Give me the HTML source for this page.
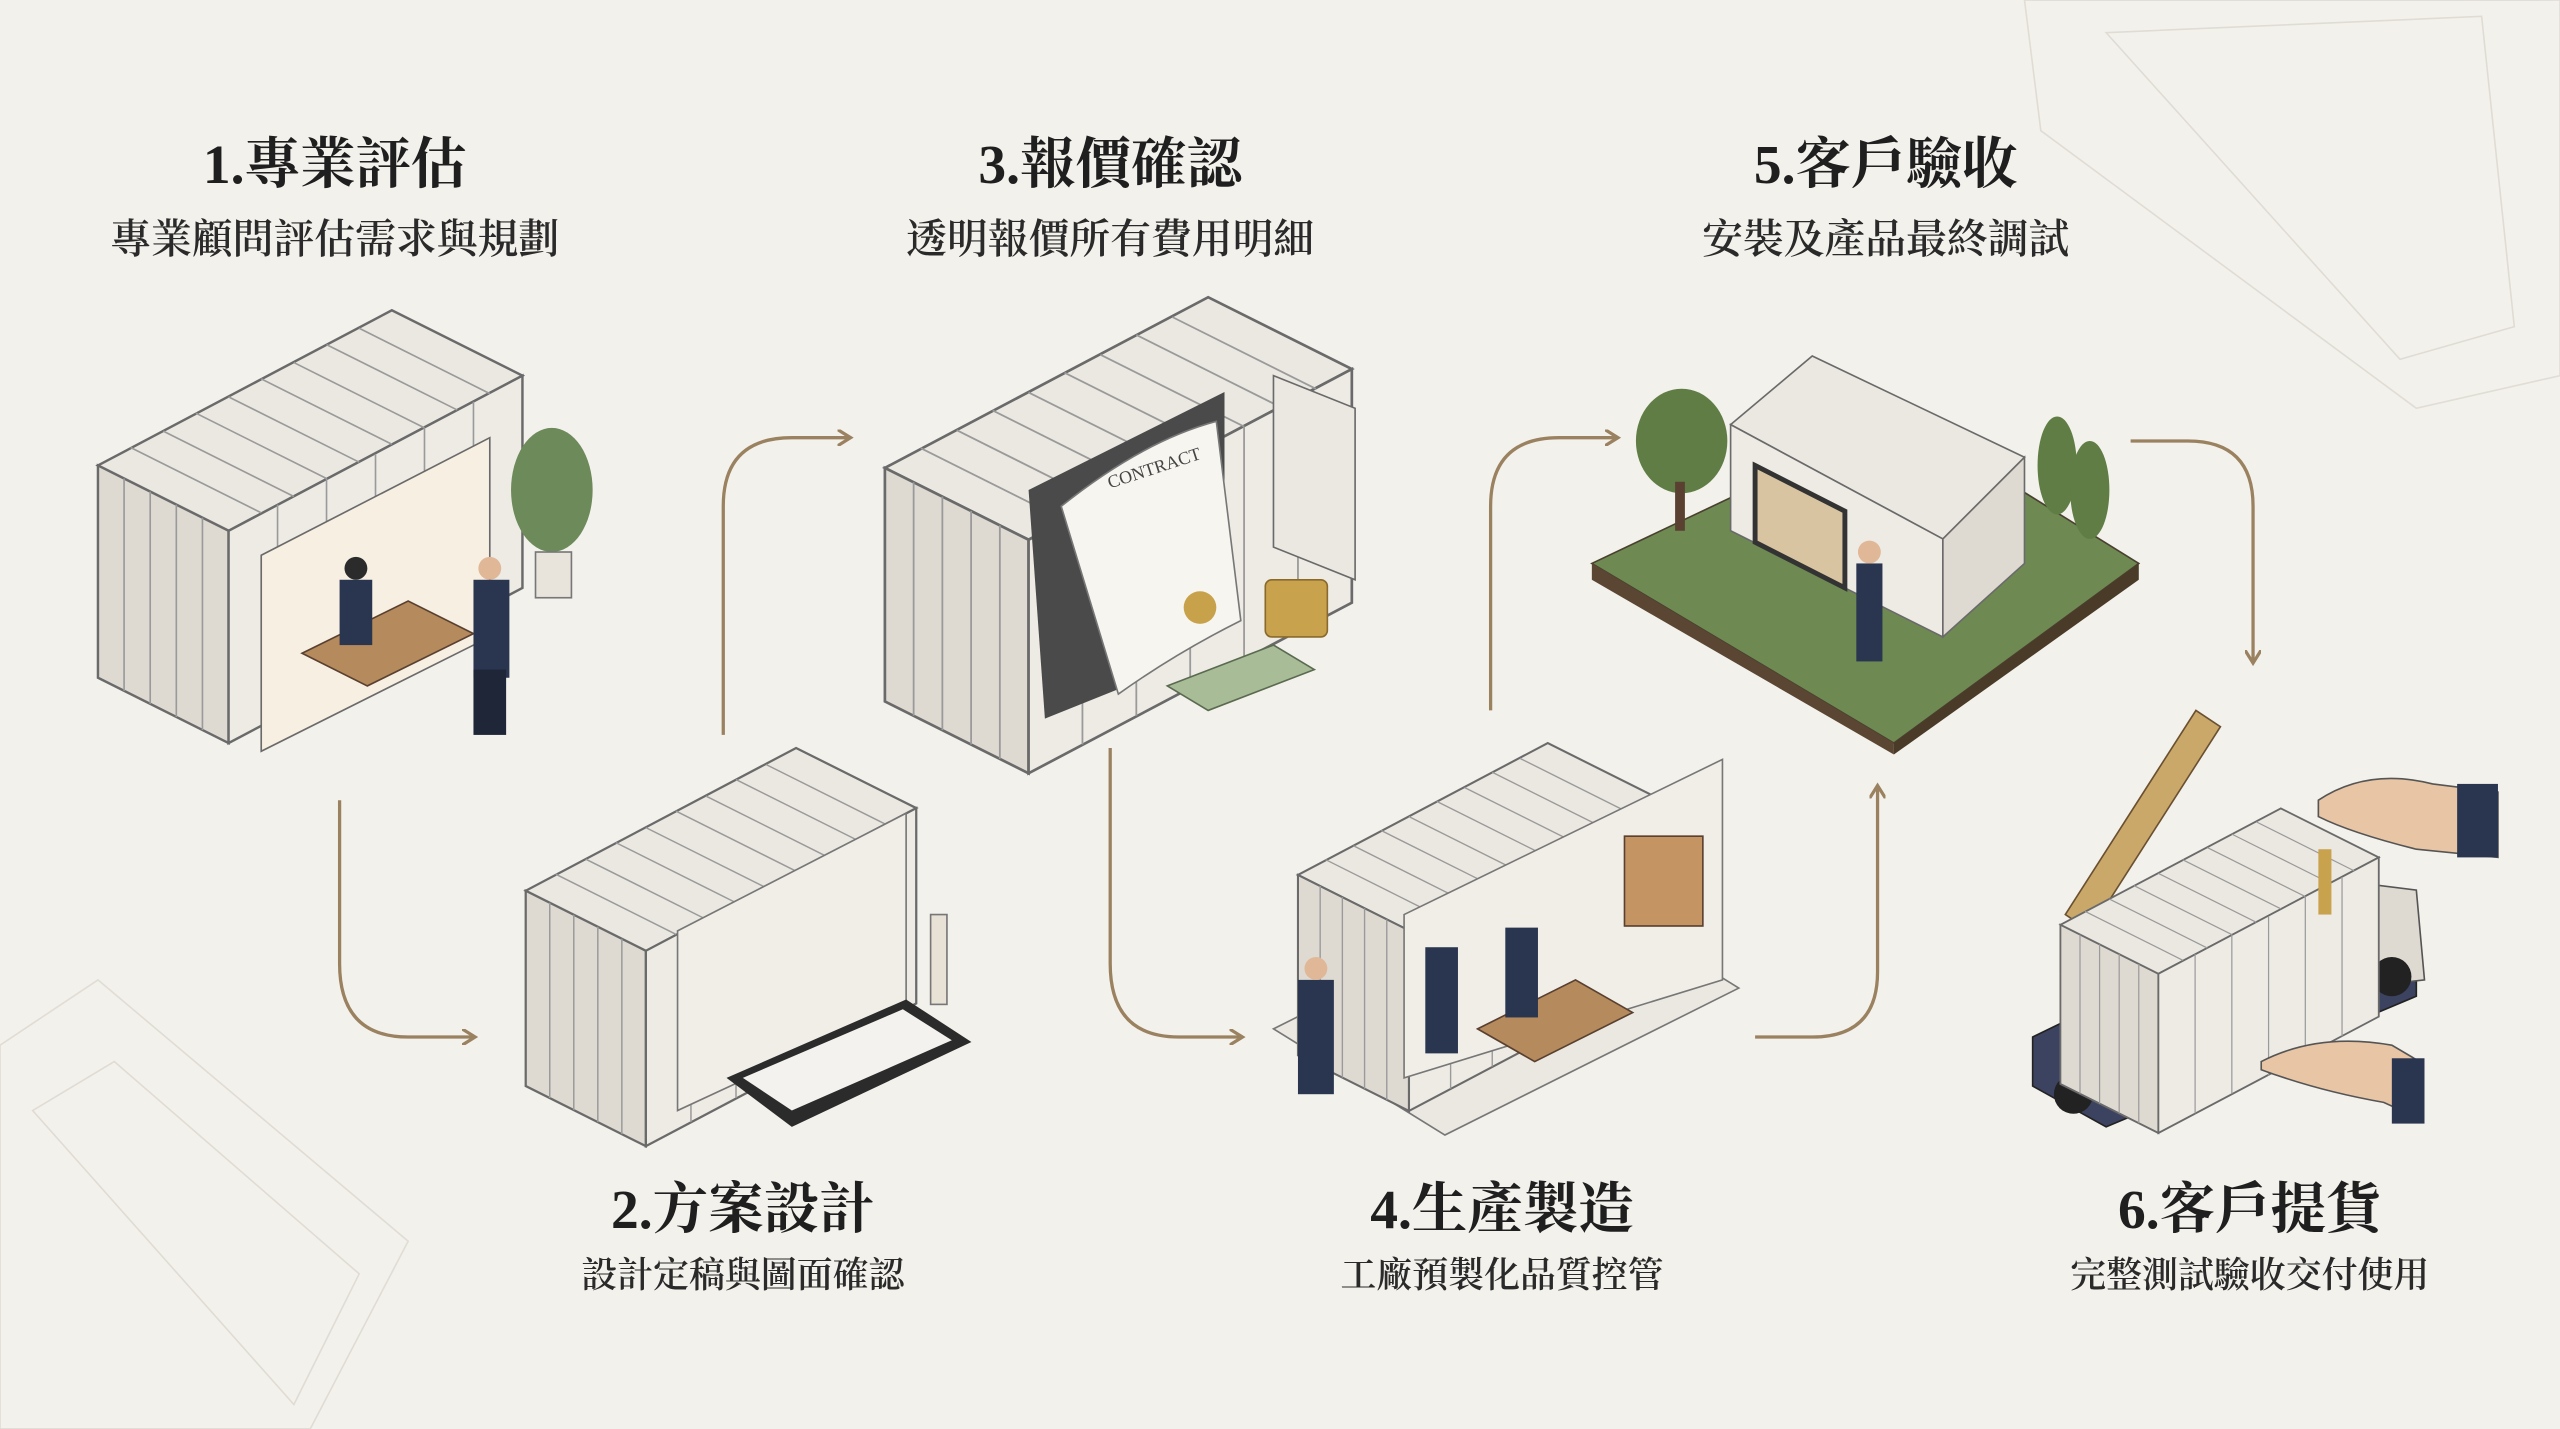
<!DOCTYPE html>
<html><head><meta charset="utf-8"><style>
html,body{margin:0;padding:0;background:#f3f1ec;}
svg{display:block}
.t{font-family:"Liberation Serif","Noto Serif CJK SC","Noto Sans CJK TC",serif;font-weight:700;font-size:34px;fill:#1f1f1f;text-anchor:middle}
.s{font-family:"Liberation Serif","Noto Serif CJK SC",serif;font-weight:600;font-size:25px;fill:#2a2a2a;text-anchor:middle}
.s2{font-size:22px}
</style></head><body>
<svg width="2560" height="1429" viewBox="0 0 1568 875" preserveAspectRatio="none" xmlns="http://www.w3.org/2000/svg">
<defs>
<g id="box">
  <polygon points="0,95 180,0 260,40 80,135" fill="#ebe8e1" stroke="#6a6a6a" stroke-width="1.5"/>
  <polygon points="0,95 80,135 80,265 0,225" fill="#dedad2" stroke="#6a6a6a" stroke-width="1.5"/>
  <polygon points="80,135 260,40 260,170 80,265" fill="#eeebe5" stroke="#6a6a6a" stroke-width="1.5"/>
  <g stroke="#9a9a9a" stroke-width="1">
    <line x1="20" y1="84" x2="100" y2="124"/><line x1="40" y1="74" x2="120" y2="114"/><line x1="60" y1="63" x2="140" y2="103"/><line x1="80" y1="53" x2="160" y2="93"/><line x1="100" y1="42" x2="180" y2="82"/><line x1="120" y1="32" x2="200" y2="72"/><line x1="140" y1="21" x2="220" y2="61"/><line x1="160" y1="11" x2="240" y2="51"/>
    <line x1="16" y1="103" x2="16" y2="233"/><line x1="32" y1="111" x2="32" y2="241"/><line x1="48" y1="119" x2="48" y2="249"/><line x1="64" y1="127" x2="64" y2="257"/>
    <line x1="110" y1="119" x2="110" y2="249"/><line x1="140" y1="103" x2="140" y2="233"/><line x1="170" y1="88" x2="170" y2="218"/><line x1="200" y1="72" x2="200" y2="202"/><line x1="230" y1="56" x2="230" y2="186"/>
  </g>
</g>
<marker id="ar" markerWidth="10" markerHeight="10" refX="7" refY="5" orient="auto" markerUnits="userSpaceOnUse"><path d="M0,0 L8,5 L0,10" fill="none" stroke="#9a8160" stroke-width="2"/></marker>
</defs>
<rect width="1568" height="875" fill="#f3f1ec"/>
<g stroke="#dcd8cf" stroke-width="1" fill="none" opacity="0.8">
  <polygon points="0,640 60,600 250,760 190,875 0,875"/><polygon points="20,680 70,650 220,780 180,860"/>
  <polygon points="1240,0 1568,0 1568,230 1480,250 1250,80"/><polygon points="1290,20 1520,10 1540,200 1470,220"/>
</g>
<text class="t" x="205" y="112">1.專業評估</text><text class="s" x="205" y="155">專業顧問評估需求與規劃</text>
<text class="t" x="680" y="112">3.報價確認</text><text class="s" x="680" y="155">透明報價所有費用明細</text>
<text class="t" x="1155" y="112">5.客戶驗收</text><text class="s" x="1155" y="155">安裝及產品最終調試</text>
<text class="t" x="455" y="752">2.方案設計</text><text class="s s2" x="455" y="788">設計定稿與圖面確認</text>
<text class="t" x="920" y="752">4.生產製造</text><text class="s s2" x="920" y="788">工廠預製化品質控管</text>
<text class="t" x="1378" y="752">6.客戶提貨</text><text class="s s2" x="1378" y="788">完整測試驗收交付使用</text>
<g fill="none" stroke="#9a8160" stroke-width="2" marker-end="url(#ar)">
  <path d="M208,490 L208,590 Q208,635 250,635 L290,635"/>
  <path d="M443,450 L443,310 Q443,268 485,268 L520,268"/>
  <path d="M680,458 L680,590 Q680,635 722,635 L760,635"/>
  <path d="M913,435 L913,310 Q913,268 955,268 L990,268"/>
  <path d="M1075,635 L1110,635 Q1150,635 1150,595 L1150,482"/>
  <path d="M1305,270 L1340,270 Q1380,270 1380,310 L1380,405"/>
</g>
<use href="#box" transform="translate(60,190)"/>
<polygon points="160,340 300,268 300,390 160,460" fill="#f6efe2" stroke="#6a6a6a"/>
<polygon points="185,400 250,368 290,388 225,420" fill="#b58a5c" stroke="#5a4030"/>
<circle cx="218" cy="348" r="7" fill="#2b2b2b"/><rect x="208" y="355" width="20" height="40" fill="#2a3550"/>
<circle cx="300" cy="348" r="7" fill="#e0b898"/><rect x="290" y="355" width="22" height="60" fill="#2a3550"/><rect x="290" y="410" width="20" height="40" fill="#1e2638"/>
<ellipse cx="338" cy="300" rx="25" ry="38" fill="#6d8a5a"/><rect x="328" y="338" width="22" height="28" fill="#e8e4dc" stroke="#777"/>
<use href="#box" transform="translate(322,458) scale(0.92)"/>
<polygon points="415,570 555,498 555,615 415,680" fill="#f1eee8" stroke="#777"/>
<polygon points="445,660 555,612 595,638 485,690" fill="#2b2b2b"/><polygon points="455,660 553,618 583,637 485,680" fill="#f4f2ee"/>
<rect x="570" y="560" width="10" height="55" fill="#e8e2d6" stroke="#777"/>
<use href="#box" transform="translate(542,182) scale(1.1)"/>
<polygon points="630,300 750,240 750,380 690,420 640,440" fill="#4a4a4a"/>
<path d="M650,310 Q700,270 745,258 L760,380 Q720,400 685,425 Z" fill="#f7f5f0" stroke="#777"/>
<text x="708" y="290" font-family="Liberation Serif,serif" font-size="11" fill="#444" transform="rotate(-18 708 290)" text-anchor="middle">CONTRACT</text>
<circle cx="735" cy="372" r="10" fill="#c8a24a"/>
<polygon points="780,230 830,250 830,355 780,335" fill="#ebe8e1" stroke="#6a6a6a"/>
<polygon points="715,420 780,395 805,410 740,435" fill="#a9bc98" stroke="#5a6b50"/>
<rect x="775" y="355" width="38" height="35" fill="#c9a24e" stroke="#8a6a2a" rx="4"/>
<polygon points="780,630 960,540 1065,605 885,695" fill="#ebe8e1" stroke="#777"/>
<use href="#box" transform="translate(795,455) scale(0.85)"/>
<polygon points="860,560 1055,465 1055,600 860,660" fill="#f1eee7" stroke="#777"/>
<polygon points="905,630 965,600 1000,620 940,650" fill="#b58a5c" stroke="#5a4030"/>
<rect x="995" y="512" width="48" height="55" fill="#c49563" stroke="#5a4030"/>
<rect x="795" y="600" width="22" height="70" fill="#2a3550"/><circle cx="806" cy="593" r="7" fill="#e0b898"/>
<rect x="873" y="580" width="20" height="65" fill="#2a3550"/><rect x="922" y="568" width="20" height="55" fill="#2a3550"/>
<polygon points="975,345 1165,255 1310,345 1160,455" fill="#6e8a52" stroke="#4a4030"/>
<polygon points="975,345 1160,455 1160,462 975,355" fill="#5a4632"/><polygon points="1160,455 1310,345 1310,355 1160,462" fill="#4a3a28"/>
<polygon points="1060,260 1110,218 1240,280 1190,330" fill="#ebe8e1" stroke="#6a6a6a"/>
<polygon points="1060,260 1190,330 1190,390 1060,325" fill="#eeebe5" stroke="#6a6a6a"/>
<polygon points="1190,330 1240,280 1240,345 1190,390" fill="#dedad2" stroke="#6a6a6a"/>
<polygon points="1075,285 1130,313 1130,360 1075,332" fill="#d8c4a0" stroke="#333" stroke-width="3"/>
<ellipse cx="1030" cy="270" rx="28" ry="32" fill="#5f7d45"/><rect x="1026" y="295" width="6" height="30" fill="#5a4030"/>
<ellipse cx="1260" cy="285" rx="12" ry="30" fill="#5f7d45"/><ellipse cx="1280" cy="300" rx="12" ry="30" fill="#5f7d45"/>
<rect x="1137" y="345" width="16" height="60" fill="#2a3550"/><circle cx="1145" cy="338" r="7" fill="#e0b898"/>
<polygon points="1245,635 1440,540 1480,560 1480,610 1290,690 1245,665" fill="#3c4360" stroke="#222"/>
<polygon points="1440,540 1480,545 1485,600 1440,605" fill="#dedad2" stroke="#555"/>
<circle cx="1270" cy="670" r="12" fill="#222"/><circle cx="1300" cy="660" r="12" fill="#222"/><circle cx="1350" cy="660" r="12" fill="#222"/><circle cx="1465" cy="598" r="12" fill="#222"/>
<polygon points="1265,560 1345,435 1360,445 1280,570" fill="#c9a86a" stroke="#6a5030"/>
<use href="#box" transform="translate(1262,495) scale(0.75)"/>
<path d="M1420,490 Q1450,470 1490,480 L1530,485 L1530,525 L1480,520 Q1440,510 1420,500Z" fill="#e8c5a4" stroke="#555"/>
<rect x="1505" y="480" width="25" height="45" fill="#2a3550"/>
<path d="M1385,650 Q1420,632 1465,640 L1482,650 L1482,685 L1460,675 Q1420,668 1385,655Z" fill="#e8c5a4" stroke="#555"/>
<rect x="1465" y="648" width="20" height="40" fill="#2a3550"/>
<rect x="1420" y="520" width="8" height="40" fill="#c9a24e"/>
</svg>
</body></html>
